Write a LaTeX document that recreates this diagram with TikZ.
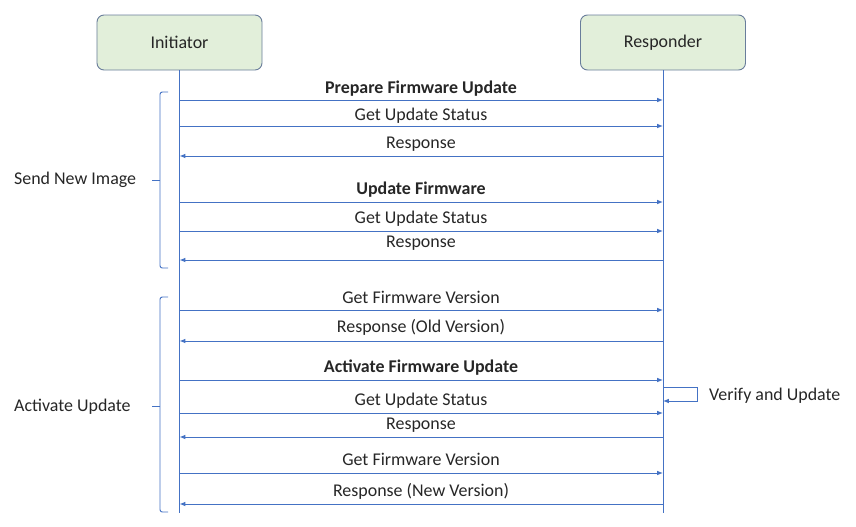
\documentclass[tikz,border=0pt]{standalone}
\usepackage{fontspec}
\setmainfont{Carlito}
\usetikzlibrary{arrows.meta,positioning}
\definecolor{lineblue}{RGB}{68,114,196}
\definecolor{boxfill}{RGB}{226,239,218}
\definecolor{boxdraw}{RGB}{105,125,155}
\definecolor{txtgray}{RGB}{38,38,38}
\begin{document}
\begin{tikzpicture}[x=0.03cm, y=-0.03cm,
	every node/.style={text=txtgray, font=\fontsize{15.3}{18}\selectfont},
	actor/.style={draw=boxdraw, fill=boxfill, line width=0.8pt, rounded corners=6pt,
		minimum width=4.95cm, minimum height=1.65cm},
	life/.style={draw=lineblue, line width=0.8pt},
	msg/.style={draw=lineblue, line width=0.8pt, -{Latex[length=5pt,width=4pt]}},
	brak/.style={draw=lineblue, line width=0.8pt, rounded corners=2pt}]
	\useasboundingbox (0,0) rectangle (856,527);
	% actors and lifelines
	\node[actor] (init) at (179.5,42.5) {Initiator};
	\node[actor] (resp) at (663,42.5) {Responder};
	\coordinate (initend) at (179.5,513);
	\coordinate (respend) at (663,513);
	\draw[life] (init) -- (initend);
	\draw[life] (resp) -- (respend);
	% messages initiator -> responder
	\foreach \n/\y/\ly/\txt in {1/100/88.5/{\textbf{Prepare Firmware Update}},
		2/126/115.5/{Get Update Status}, 4/202/189.5/{\textbf{Update Firmware}},
		5/231/218.5/{Get Update Status}, 7/310/297.5/{Get Firmware Version},
		9/380/367.5/{\textbf{Activate Firmware Update}}, 10/413/400.5/{Get Update Status},
		12/473/459.5/{Get Firmware Version}}{
		\coordinate (i\n) at (179.5,\y);
		\coordinate (r\n) at (663,\y);
		\draw[msg] (i\n) -- (r\n);
		\node (m\n) at (421,\ly) {\txt};
	}
	% messages responder -> initiator
	\foreach \n/\y/\ly/\txt in {3/156/144.5/{Response}, 6/260/243.5/{Response},
		8/341/327.5/{Response (Old Version)}, 11/437/425.5/{Response},
		13/504/491.5/{Response (New Version)}}{
		\coordinate (i\n) at (179.5,\y);
		\coordinate (r\n) at (663,\y);
		\draw[msg] (r\n) -- (i\n);
		\node (m\n) at (421,\ly) {\txt};
	}
	% self message
	\coordinate (vtop) at (663,387);
	\coordinate (vbot) at (663,401);
	\draw[msg] (vtop) -- (697,387) -- (697,401) -- (vbot);
	\node[anchor=west] (verify) at (705,396) {Verify and Update};
	% phases
	\draw[brak] (168,92) -- (160,92) -- (160,268) -- (168,268);
	\draw[brak] (160,180) -- (152,180);
	\node[anchor=west] (send) at (10,180) {Send New Image};
	\draw[brak] (168,297) -- (160,297) -- (160,512) -- (168,512);
	\draw[brak] (160,406) -- (152,406);
	\node[anchor=west] (act) at (10,407) {Activate Update};
\end{tikzpicture}
\end{document}
